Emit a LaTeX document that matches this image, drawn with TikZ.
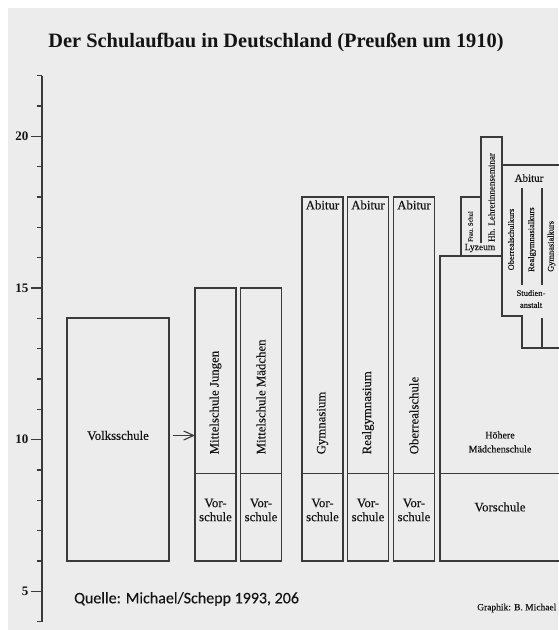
\documentclass[tikz,border=0pt]{standalone}
\usepackage{fontspec}
\setmainfont{Liberation Serif}
\newfontfamily\darkfont[FakeBold=0.35]{Liberation Serif}
\newfontfamily\qfont[FakeBold=0.2]{Carlito}
\usetikzlibrary{arrows.meta}
\definecolor{bg}{RGB}{236,236,236}
\definecolor{linec}{RGB}{58,58,58}
\definecolor{txtc}{RGB}{20,20,20}
\newcommand\colfont{\darkfont\fontsize{12.8}{14}\selectfont}
\newcommand\smallfont{\darkfont\fontsize{8.4}{9.5}\selectfont}
\tikzset{
  boxline/.style={draw=linec, line width=1.4pt},
  colbox/.style={draw=linec, line width=1.4pt, rectangle, inner sep=0pt, outer sep=0pt, anchor=north west},
  axisline/.style={draw=linec, line width=1.2pt},
  lbl/.style={text=txtc, inner sep=0pt, font=\colfont},
  vlbl/.style={lbl, rotate=90, anchor=west},
  numlbl/.style={text=txtc, inner sep=0pt, font=\fontsize{13}{14}\selectfont\bfseries},
  arrowline/.style={draw=linec, line width=1.1pt, -{Straight Barb[length=10pt, width=9pt]}}
}
\begin{document}
\begin{tikzpicture}[x=1pt,y=-1pt]
\useasboundingbox (0,0) rectangle (558,630);
\fill[white] (0,0) rectangle (558,630);
\fill[bg] (8,8) rectangle (558,630);

% title
\node[lbl, font=\fontsize{20.4}{24}\selectfont\bfseries] (title) at (276,42) {Der Schulaufbau in Deutschland (Preußen um 1910)};

% axis
\draw[axisline] (42,75.7) -- (42,621.7);
\foreach \yr in {4,...,22} {
  \pgfmathsetmacro\yy{743-30.33*\yr}
  \draw[axisline] (37,\yy) -- (42,\yy);
}
\foreach \yr in {5,10,15,20} {
  \pgfmathsetmacro\yy{743-30.33*\yr}
  \draw[axisline] (31,\yy) -- (42,\yy);
  \node[numlbl, anchor=east] (n\yr) at (28.5,\yy) {\yr};
}

% Volksschule
\node[colbox, minimum width=102pt, minimum height=243pt] (volk) at (67,318) {};
\node[lbl] (tvolk) at (118,435.5) {Volksschule};

% Mittelschulen
\node[colbox, minimum width=41pt, minimum height=273pt] (mj) at (195,288) {};
\node[colbox, minimum width=41pt, minimum height=273pt] (mm) at (240.5,288) {};
\draw[boxline] (195,473.5) -- (236,473.5);
\draw[boxline] (240.5,473.5) -- (281.5,473.5);
\node[vlbl] (tmj) at (215.5,454.5) {Mittelschule Jungen};
\node[vlbl] (tmm) at (261,454.5) {Mittelschule Mädchen};
\node[lbl, align=center] (vmj) at (215.5,510) {Vor-\\schule};
\node[lbl, align=center] (vmm) at (261,510) {Vor-\\schule};

% arrow
\coordinate (arrS) at (172.5,435.5);
\draw[arrowline] (arrS) -- (arrS -| mj.west);

% Gymnasien
\node[colbox, minimum width=41pt, minimum height=364pt] (gym) at (302,197) {};
\node[colbox, minimum width=41pt, minimum height=364pt] (real) at (347.5,197) {};
\node[colbox, minimum width=41pt, minimum height=364pt] (ober) at (393.5,197) {};
\draw[boxline] (302,473.5) -- (343,473.5);
\draw[boxline] (347.5,473.5) -- (388.5,473.5);
\draw[boxline] (393.5,473.5) -- (434.5,473.5);
\node[lbl] (agym) at (322.5,205) {Abitur};
\node[lbl] (areal) at (368,205) {Abitur};
\node[lbl] (aober) at (414,205) {Abitur};
\node[vlbl] (tgym) at (322.5,454.5) {Gymnasium};
\node[vlbl] (treal) at (368,454.5) {Realgymnasium};
\node[vlbl] (tober) at (414,454.5) {Oberrealschule};
\node[lbl, align=center] (vgym) at (322.5,510) {Vor-\\schule};
\node[lbl, align=center] (vreal) at (368,510) {Vor-\\schule};
\node[lbl, align=center] (vober) at (414,510) {Vor-\\schule};

% Hoehere Maedchenschule
\draw[boxline] (502,256) -- (440,256) -- (440,561) -- (562,561);
\draw[boxline] (440,473.5) -- (562,473.5);
\node[lbl, align=center, font=\darkfont\fontsize{10}{14}\selectfont] (hms) at (500,442) {Höhere\\Mädchenschule};
\node[lbl] (hmv) at (500,507) {Vorschule};

% Lyzeum / Seminar
\draw[boxline] (461,256) -- (461,197) -- (481,197);
\draw[boxline] (481,243) -- (481,137) -- (502,137) -- (502,316) -- (522,316) -- (522,348) -- (562,348);
\node[lbl, font=\darkfont\fontsize{9.5}{10}\selectfont] (lyz) at (480,248) {Lyzeum};
\node[vlbl, font=\darkfont\fontsize{6.5}{7}\selectfont] (frau) at (470.5,242) {Frau. Schul};
\node[vlbl, font=\darkfont\fontsize{9}{10}\selectfont] (hh) at (491.5,242) {Hh. Lehrerinnenseminar};

% Studienanstalt
\draw[boxline] (502,165) -- (562,165);
\draw[boxline] (522,188) -- (522,285);
\draw[boxline] (542,188) -- (542,285);
\draw[boxline] (542,318) -- (542,348);
\node[lbl, font=\darkfont\fontsize{11}{12}\selectfont] (abr) at (529,178) {Abitur};
\node[vlbl, font=\smallfont] (ork) at (511,270.5) {Oberrealschulkurs};
\node[vlbl, font=\smallfont] (rgk) at (532,272) {Realgymnasialkurs};
\node[vlbl, font=\smallfont] (gk) at (551.5,272) {Gymnasialkurs};
\node[lbl, align=center, font=\darkfont\fontsize{8.5}{12}\selectfont] (stud) at (531,299) {Studien-\\anstalt};

% sources
\node[lbl, anchor=west, font=\qfont\fontsize{16}{18}\selectfont] (quelle) at (74,599) {Quelle: Michael/Schepp 1993, 206};
\node[lbl, anchor=west, font=\darkfont\fontsize{9.5}{10}\selectfont] (graph) at (477,608) {Graphik: B. Michael};
\end{tikzpicture}
\end{document}
